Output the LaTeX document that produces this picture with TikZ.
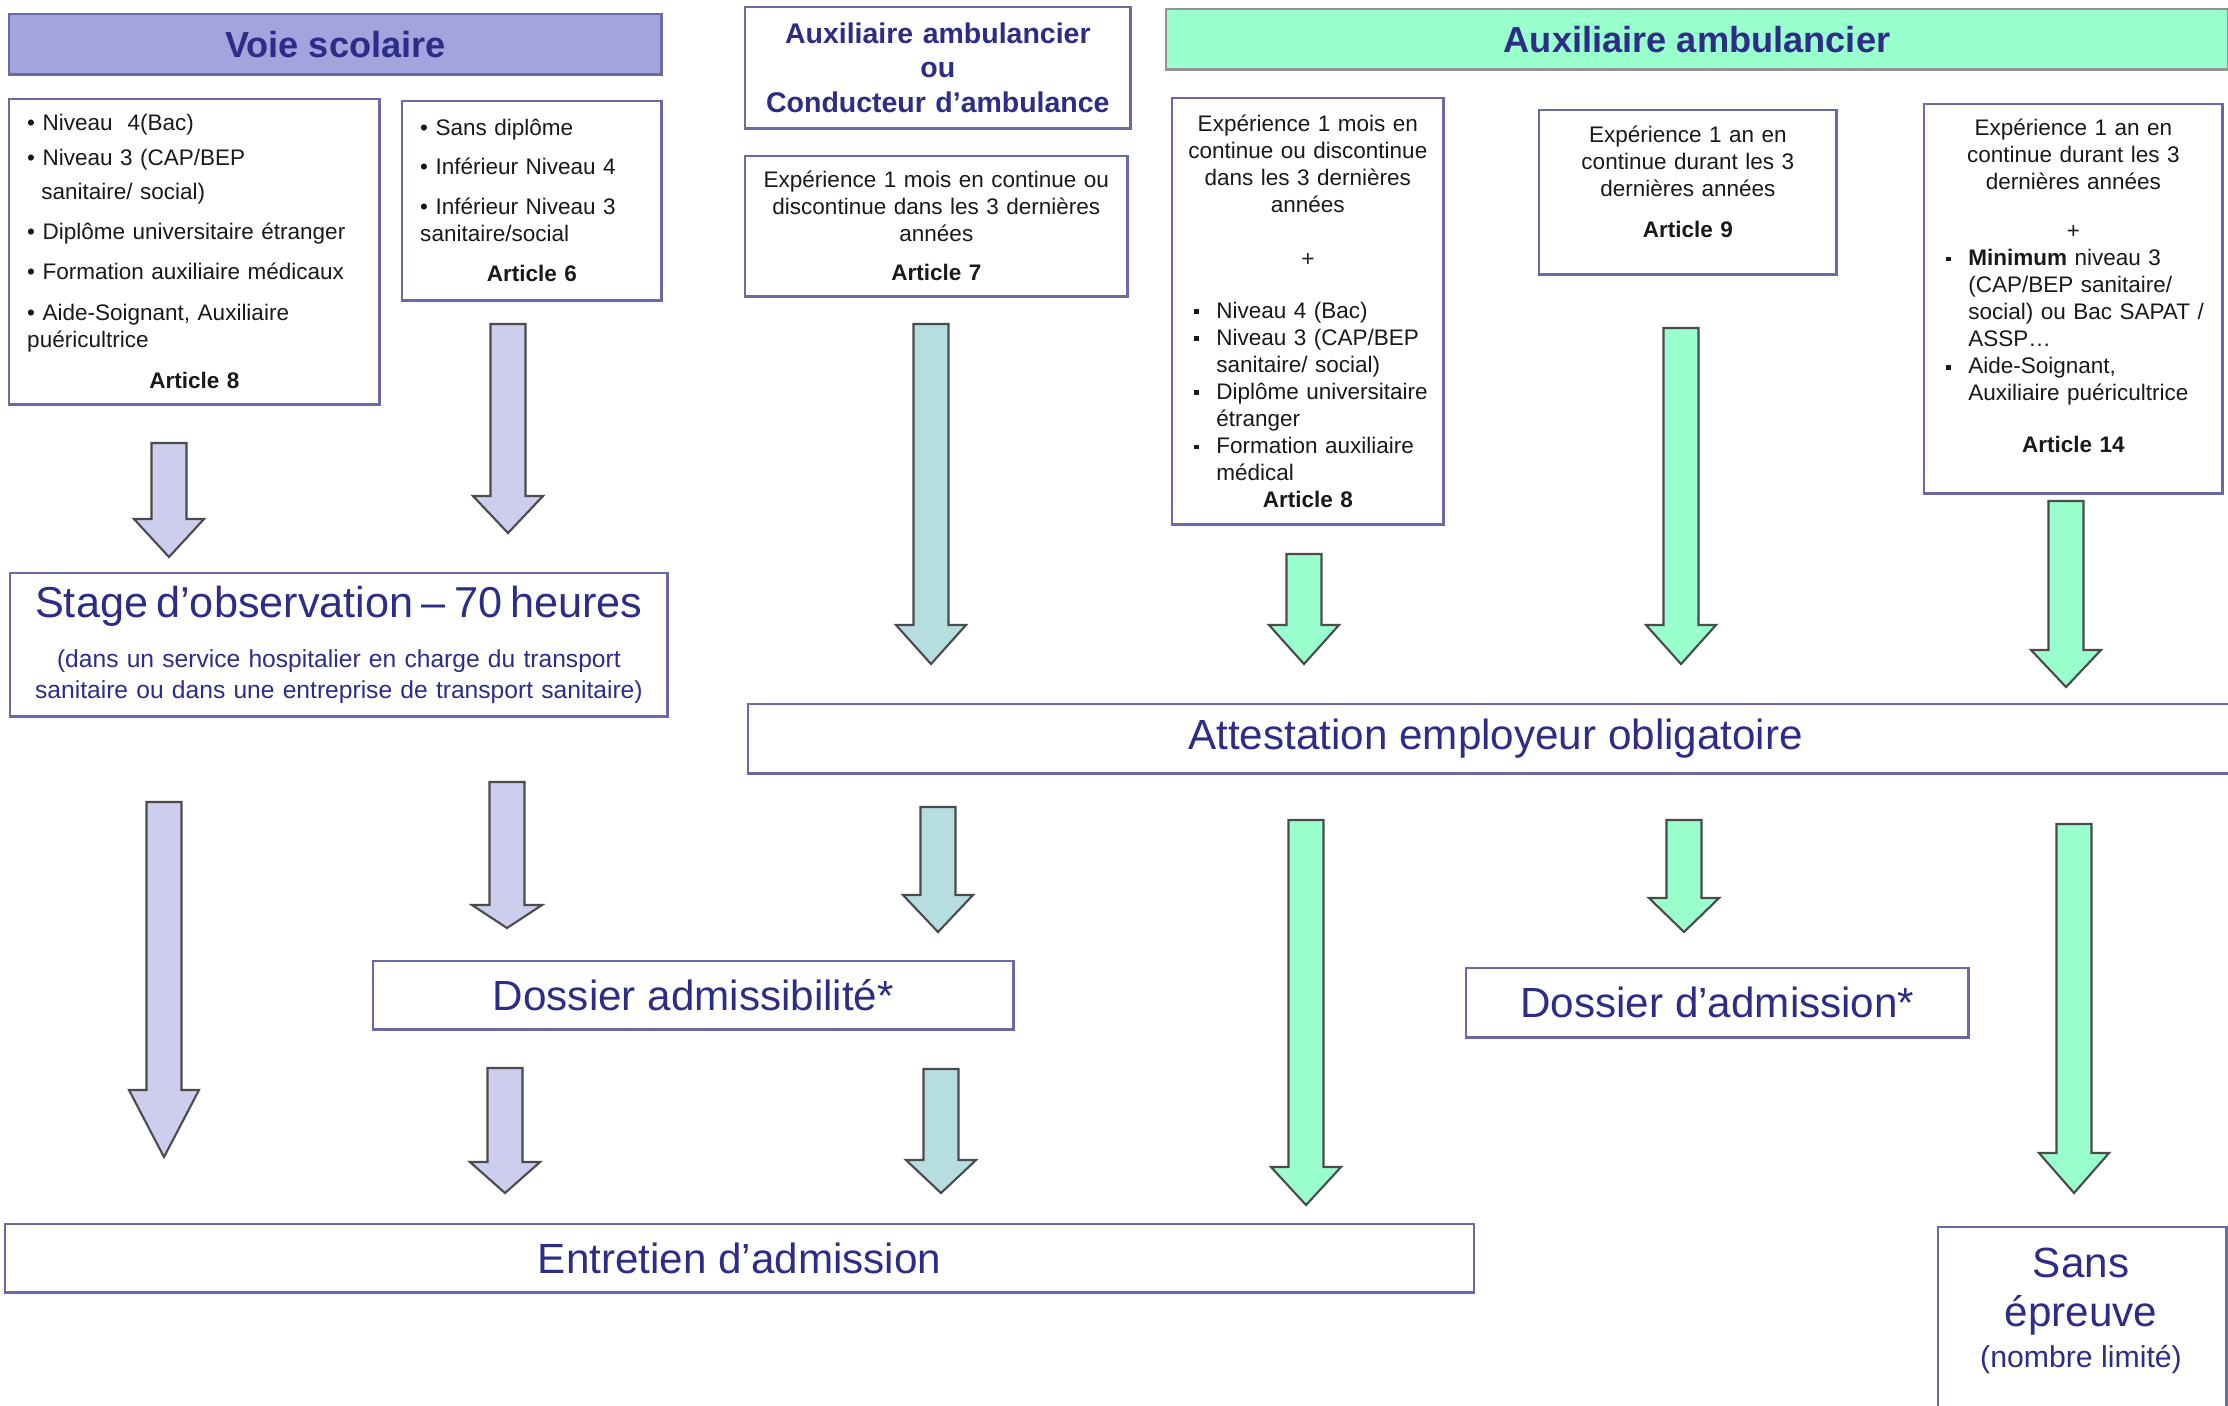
\documentclass[tikz,border=0pt]{standalone}
\usepackage{fontspec}
\setmainfont{Liberation Sans}
\definecolor{marine}{RGB}{45,45,135}
\definecolor{bordure}{RGB}{105,105,165}
\definecolor{lavfonce}{RGB}{163,163,222}
\definecolor{lavclair}{RGB}{205,205,238}
\definecolor{turq}{RGB}{182,222,224}
\definecolor{menthe}{RGB}{153,255,204}
\definecolor{gristrait}{RGB}{75,75,75}
\definecolor{corpsc}{RGB}{25,25,25}
\newcommand{\puce}{\textbullet\ }
\newcommand{\itm}{\par\hangindent=0.36cm\hangafter=1\noindent\hspace*{0.14cm}%
  \makebox[0.22cm][l]{\raisebox{0.35ex}{\rule{1.4pt}{1.4pt}}}}
\newcommand{\fleche}[5]{%
  \filldraw[flechestyle, fill=#5] (#1-17.5,#2) -- (#1+17.5,#2) -- (#1+17.5,#3)
    -- (#1+35,#3) -- (#1,#4) -- (#1-35,#3) -- (#1-17.5,#3) -- cycle;}
\tikzset{
  boite/.style={draw=bordure, line width=0.7pt, fill=white, anchor=north west, inner ysep=0pt},
  corps/.style={boite, text=corpsc, font=\fontsize{6.4}{7.68}\selectfont},
  grand/.style={boite, text=marine, font=\fontsize{12}{14.4}\selectfont, inner xsep=0pt},
  entete/.style={boite, text=marine, font=\bfseries\fontsize{10.3}{12}\selectfont},
  flechestyle/.style={draw=gristrait, line width=0.6pt, line join=miter}
}
\begin{document}
\begin{tikzpicture}[x=0.01cm,y=-0.01cm]
  \useasboundingbox[fill=white] (0,0) rectangle (2228,1405);
  % voie scolaire
  \node[entete, fill=lavfonce, minimum width=6.52cm, minimum height=0.60cm] (voie) at (8,13) {Voie scolaire};
  \node[corps, text width=3.34cm, inner xsep=0.18cm, minimum height=3.05cm] (art8g) at (8,98) {\raggedright
    \puce Niveau\ \ 4(Bac)\\[0.08cm]
    \puce Niveau 3 (CAP/BEP\\[0.07cm]
    \hspace*{4pt}sanitaire/ social)\\[0.13cm]
    \puce Diplôme universitaire étranger\\[0.13cm]
    \puce Formation auxiliaire médicaux\\[0.14cm]
    \puce Aide-Soignant, Auxiliaire\\
    puéricultrice\par\vspace{0.14cm}
    \centering\textbf{Article 8}\par};
  \node[corps, text width=2.23cm, inner xsep=0.18cm, minimum height=1.99cm] (art6) at (401,100) {\raggedright
    \puce Sans diplôme\\[0.12cm]
    \puce Inférieur Niveau 4\\[0.13cm]
    \puce Inférieur Niveau 3\\
    sanitaire/social\par\vspace{0.13cm}
    \centering\textbf{Article 6}\par};
  % auxiliaire ou conducteur
  \node[boite, text=marine, font=\bfseries\fontsize{8.1}{9.7}\selectfont, text width=3.85cm, inner xsep=0pt,
    minimum height=1.21cm, align=center] (auxcond) at (744,6) {Auxiliaire ambulancier\\ou\\Conducteur d’ambulance};
  \node[corps, text width=3.66cm, inner xsep=0.08cm, minimum height=1.40cm, align=center] (art7) at (744,155) {%
    Expérience 1 mois en continue ou\\discontinue dans les 3 dernières\\années\\[0.12cm]\textbf{Article 7}};
  % auxiliaire ambulancier
  \node[entete, draw=gristrait!60, fill=menthe, minimum width=10.61cm, minimum height=0.60cm] (auxamb) at (1165,8) {Auxiliaire ambulancier};
  \node[corps, text width=2.55cm, inner xsep=0.08cm, minimum height=4.26cm] (art8m) at (1171,97) {\centering
    Expérience 1 mois en\\continue ou discontinue\\dans les 3 dernières\\années\par\vspace{0.27cm}
    +\par\vspace{0.25cm}\raggedright
    \itm Niveau 4 (Bac)
    \itm Niveau 3 (CAP/BEP\newline sanitaire/ social)
    \itm Diplôme universitaire\newline étranger
    \itm Formation auxiliaire\newline médical\par
    \centering\textbf{Article 8}\par};
  \node[corps, text width=2.81cm, inner xsep=0.08cm, minimum height=1.64cm, align=center] (art9) at (1538,109) {%
    Expérience 1 an en\\continue durant les 3\\dernières années\\[0.14cm]\textbf{Article 9}\rule[-0.22cm]{0pt}{0pt}};
  \node[corps, text width=2.82cm, inner xsep=0.08cm, minimum height=3.89cm] (art14) at (1923,103) {\centering
    Expérience 1 an en\\continue durant les 3\\dernières années\par\vspace{0.22cm}
    +\par\raggedright
    \itm\textbf{Minimum} niveau 3\newline (CAP/BEP sanitaire/\newline social) ou Bac SAPAT /\newline ASSP…
    \itm Aide-Soignant,\newline Auxiliaire puéricultrice\par\vspace{0.25cm}
    \centering\textbf{Article 14}\rule[-0.26cm]{0pt}{0pt}\par};
  % etapes
  \node[boite, text=marine, text width=6.57cm, inner xsep=0pt, minimum height=1.43cm, align=center,
    font=\fontsize{7}{8.8}\selectfont] (stage) at (9,572) {%
    {\fontsize{12.3}{8.8}\selectfont Stage d’observation – 70 heures}\\[5.4pt]
    (dans un service hospitalier en charge du transport\\sanitaire ou dans une entreprise de transport sanitaire)};
  \node[grand, minimum width=14.94cm, minimum height=0.69cm] (attest) at (747,703) {Attestation employeur obligatoire};
  \node[grand, minimum width=6.40cm, minimum height=0.68cm] (dosadm) at (372,960) {Dossier admissibilité*};
  \node[grand, minimum width=5.02cm, minimum height=0.69cm] (dosadmi) at (1465,967) {Dossier d’admission*};
  \node[grand, minimum width=14.68cm, minimum height=0.68cm] (entretien) at (4,1223) {Entretien d’admission};
  \node[boite, minimum width=2.88cm, minimum height=2.2cm] (sans) at (1937,1226) {};
  \node[text=marine, font=\fontsize{12}{14}\selectfont, align=center, anchor=north, inner sep=0pt] (sanstxt)
    at (2081,1247) {Sans\\épreuve\\[-2.3pt]{\fontsize{8.6}{10}\selectfont(nombre limité)}};
  % fleches
  \fleche{169}{443}{519}{557}{lavclair}
  \fleche{508}{324}{496}{533}{lavclair}
  \fleche{931}{324}{625}{664}{turq}
  \fleche{1304}{554}{625}{664}{menthe}
  \fleche{1681}{328}{625}{664}{menthe}
  \fleche{2066}{501}{650}{687}{menthe}
  \fleche{164}{802}{1090}{1157}{lavclair}
  \fleche{507}{782}{905}{928}{lavclair}
  \fleche{938}{807}{895}{932}{turq}
  \fleche{1306}{820}{1167}{1205}{menthe}
  \fleche{1684}{820}{898}{932}{menthe}
  \fleche{2074}{824}{1153}{1193}{menthe}
  \fleche{505}{1068}{1162}{1193}{lavclair}
  \fleche{941}{1069}{1160}{1193}{turq}
\end{tikzpicture}
\end{document}
